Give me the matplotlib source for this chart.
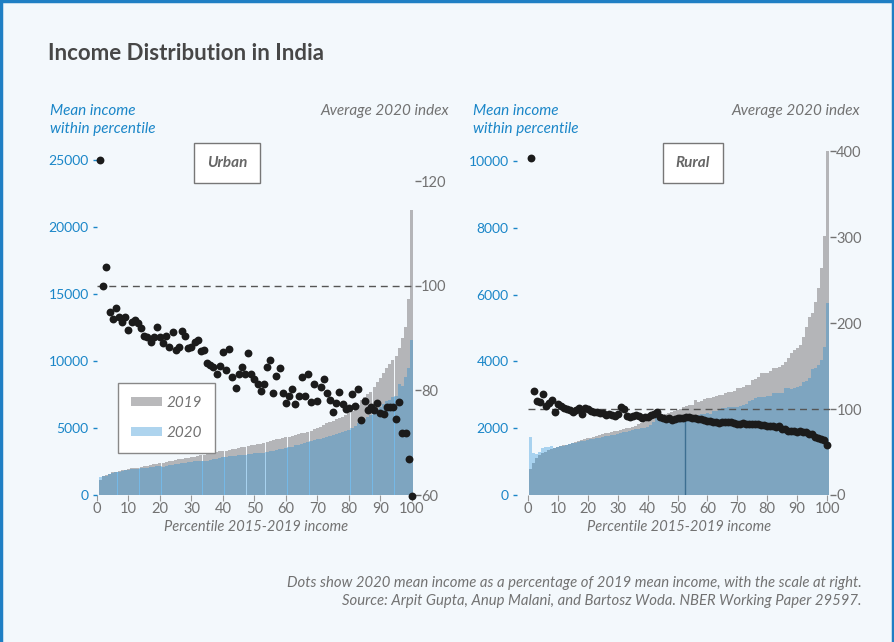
import numpy as np
import matplotlib
matplotlib.use("Agg")
import matplotlib.pyplot as plt
from matplotlib.patches import Patch
from matplotlib.lines import Line2D

# percentile 1..100
percentiles = np.arange(1, 101)

# Urban: mean income within percentile (bars, left axis)
urban_2019 = [
    1150, 1400, 1500, 1600, 1700, 1750, 1800, 1850, 1900, 1950,
    1980, 2010, 2050, 2110, 2150, 2200, 2250, 2300, 2340, 2380,
    2420, 2460, 2500, 2550, 2610, 2650, 2700, 2730, 2770, 2810,
    2850, 2900, 2950, 3000, 3060, 3100, 3150, 3200, 3250, 3280,
    3310, 3360, 3400, 3450, 3500, 3560, 3600, 3650, 3700, 3750,
    3780, 3800, 3850, 3950, 4000, 4100, 4150, 4200, 4250, 4300,
    4350, 4400, 4500, 4550, 4600, 4650, 4720, 4800, 4900, 5000,
    5100, 5200, 5350, 5450, 5550, 5650, 5750, 5850, 5950, 6100,
    6300, 6500, 6700, 7100, 7300, 7500, 7700, 8080, 8400, 8730,
    9100, 9470, 9800, 10070, 10370, 11000, 11700, 12560, 14600, 21260,
]
urban_2020 = [
    1370, 1400, 1450, 1550, 1620, 1680, 1740, 1800, 1870, 1890,
    1910, 1930, 1960, 1990, 2020, 2050, 2080, 2100, 2130, 2160,
    2100, 2190, 2220, 2250, 2290, 2330, 2370, 2410, 2450, 2490,
    2500, 2520, 2540, 2550, 2560, 2600, 2650, 2700, 2750, 2800,
    2860, 2880, 2900, 2930, 2950, 2980, 3020, 3050, 3080, 3110,
    3110, 3120, 3130, 3200, 3250, 3300, 3350, 3400, 3450, 3500,
    3550, 3600, 3700, 3750, 3800, 3850, 3980, 4050, 4100, 4150,
    4200, 4250, 4350, 4400, 4500, 4550, 4600, 4700, 4750, 4850,
    5000, 5150, 5350, 5500, 5650, 5840, 6000, 6200, 6400, 6590,
    6800, 7000, 7100, 7300, 7400, 8300, 8100, 8800, 9500, 11550,
]
# Urban: 2020 mean income as % of 2019 (dots, right axis)
urban_index = [
    124.0, 100.0, 103.5, 94.9, 93.7, 95.7, 94.1, 93.1, 94.1, 91.5,
    93.1, 93.4, 92.9, 92.0, 90.4, 90.1, 89.2, 90.1, 92.1, 90.1,
    89.1, 90.4, 88.2, 91.1, 87.8, 88.2, 91.3, 90.4, 88.0, 88.3,
    89.3, 89.6, 87.6, 87.7, 85.2, 84.8, 84.5, 83.1, 84.7, 87.4,
    83.9, 87.9, 82.5, 80.4, 83.2, 84.5, 83.2, 87.2, 83.2, 82.1,
    81.2, 79.9, 81.2, 84.5, 85.8, 79.4, 82.7, 84.2, 79.5, 77.6,
    79.0, 80.2, 77.4, 78.9, 82.6, 78.9, 83.1, 77.8, 81.2, 78.0,
    80.6, 82.1, 79.5, 78.1, 75.9, 77.5, 79.7, 77.4, 76.4, 76.6,
    79.3, 77.0, 80.2, 74.3, 78.0, 76.2, 76.9, 76.2, 77.6, 75.7,
    75.5, 76.9, 76.9, 76.9, 74.5, 77.8, 71.9, 71.9, 66.9, 59.8,
]

# Rural
rural_2019 = [
    780, 950, 1100, 1200, 1250, 1300, 1350, 1380, 1400, 1450,
    1470, 1490, 1510, 1540, 1570, 1600, 1620, 1650, 1670, 1700,
    1720, 1750, 1770, 1800, 1830, 1850, 1870, 1890, 1910, 1930,
    1950, 1970, 2000, 2020, 2050, 2080, 2120, 2160, 2200, 2250,
    2280, 2320, 2350, 2370, 2400, 2440, 2450, 2490, 2500, 2540,
    2560, 2640, 2650, 2690, 2700, 2850, 2790, 2800, 2860, 2890,
    2900, 2940, 2950, 2990, 3000, 3060, 3070, 3090, 3120, 3190,
    3200, 3230, 3290, 3300, 3440, 3480, 3520, 3640, 3650, 3660,
    3700, 3790, 3800, 3840, 3900, 3990, 4090, 4240, 4340, 4390,
    4490, 4740, 5040, 5340, 5440, 5790, 6190, 6790, 7760, 10310,
]
rural_2020 = [
    1750, 1250, 1220, 1300, 1400, 1450, 1450, 1480, 1420, 1450,
    1470, 1480, 1500, 1520, 1550, 1570, 1590, 1610, 1630, 1650,
    1670, 1690, 1700, 1720, 1750, 1760, 1780, 1790, 1810, 1830,
    1850, 1880, 1900, 1920, 1950, 1970, 1990, 2000, 2020, 2050,
    2100, 2200, 2350, 2300, 2250, 2250, 2270, 2280, 2290, 2300,
    2300, 2310, 2330, 2350, 2370, 2390, 2400, 2420, 2440, 2450,
    2420, 2500, 2520, 2550, 2590, 2600, 2620, 2640, 2640, 2640,
    2650, 2700, 2720, 2800, 2830, 2900, 2940, 2940, 2940, 2950,
    2950, 3040, 3050, 3040, 3050, 3190, 3200, 3180, 3200, 3240,
    3260, 3390, 3420, 3500, 3760, 3790, 3890, 4040, 4440, 5740,
]
rural_index = [
    392, 121, 109, 108, 117, 104, 107, 111, 97, 106,
    103, 101, 100, 99, 97, 99, 101, 94, 101, 100,
    98, 97, 96, 95, 95, 93, 94, 93, 92, 94,
    102, 100, 92, 91, 92, 93, 92, 90, 91, 91,
    93, 94, 97, 91, 89, 88, 89, 87, 88, 90,
    90, 90, 91, 91, 90, 89, 88, 88, 87, 86,
    86, 85, 85, 84, 85, 85, 85, 85, 84, 83,
    83, 84, 83, 83, 83, 82, 82, 81, 81, 80,
    80, 80, 79, 80, 77, 77, 74, 74, 74, 73,
    74, 73, 73, 71, 71, 68, 66, 65, 64, 58,
]
# thin vertical line seen in the rural panel
rural_rule_x = 52.5
rural_rule_top = 89

BG = "#f3f8fc"
GRAY_BAR = "#b4b5b8"
BLUE_BAR = "#0c84d4"
BLUE_TXT = "#1a86c8"
GRAY_TXT = "#727272"
FONT = "Lato"

plt.rcParams["font.family"] = [FONT, "DejaVu Sans"]

W, H = 894, 642
fig = plt.figure(figsize=(W / 100, H / 100), dpi=100, facecolor=BG)


def px_box(x0, y_top, x1, y_bot):
    return [x0 / W, 1 - y_bot / H, (x1 - x0) / W, (y_bot - y_top) / H]


def style_axes(ax, ax2, left_color, spine_gap):
    for a in (ax, ax2):
        for s in a.spines.values():
            s.set_visible(False)
        a.set_facecolor("none")
    ax.spines["left"].set_position(("outward", spine_gap))
    ax.tick_params(axis="y", colors=left_color, labelsize=10, length=3, width=1, pad=3)
    ax.tick_params(axis="x", colors=GRAY_TXT, labelsize=10.5, length=4, width=0.8, pad=1)
    ax.tick_params(axis="x", color="#999999")
    ax2.tick_params(axis="y", colors=GRAY_TXT, labelsize=10.5, length=4, width=1, pad=0.5)
    ax.set_xticks(range(0, 101, 10))
    ax.set_xlabel("Percentile 2015-2019 income", style="italic", color=GRAY_TXT,
                  fontsize=10.5, labelpad=3)


def draw_panel(rect, v19, v20, idx, ylim_l, ylim_r, yticks_l, yticks_r,
               gray_w, blue_w, spine_gap):
    ax = fig.add_axes(rect)
    ax.bar(percentiles, v19, width=gray_w, color=GRAY_BAR, linewidth=0)
    ax.bar(percentiles, v20, width=blue_w, color=BLUE_BAR, alpha=0.32, linewidth=0)
    ax.set_xlim(0, 101)
    ax.set_ylim(*ylim_l)
    ax.set_yticks(yticks_l)
    ax2 = ax.twinx()
    ax2.set_ylim(*ylim_r)
    ax2.set_yticks(yticks_r)
    ax2.axhline(100, color="#555555", lw=1, dashes=(5, 3.5), zorder=1)
    ax2.scatter(percentiles, idx, s=32, color="#1b1b1b", zorder=3, linewidths=0,
                clip_on=False)
    style_axes(ax, ax2, BLUE_TXT, spine_gap)
    return ax, ax2


# Urban panel
ax_u, ax_u2 = draw_panel(px_box(97, 147, 415, 495), urban_2019, urban_2020, urban_index,
                         (0, 25960), (60, 126.5), range(0, 25001, 5000), [60, 80, 100, 120],
                         0.96, 1.03, 0)
# Rural panel
ax_r, ax_r2 = draw_panel(px_box(528, 147, 830, 495), rural_2019, rural_2020, rural_index,
                         (0, 10419), (0, 404.7), range(0, 10001, 2000), range(0, 401, 100),
                         1.0, 1.0, 8)
ax_r2.plot([rural_rule_x, rural_rule_x], [0, rural_rule_top], color="#3d6f92", lw=1, zorder=2)

# panel name boxes
for ax, name, xf in ((ax_u2, "Urban", 0.409), (ax_r2, "Rural", 0.546)):
    ax.text(xf, 0.954, name, transform=ax.transAxes,
            ha="center", va="center", style="italic", weight="bold", color="#666666",
            fontsize=11,
            bbox=dict(boxstyle="square,pad=0.85", facecolor="white", edgecolor="#777777", lw=1))

# legend (urban)
handles = [Patch(facecolor="#b9b9bb", edgecolor="none", label="2019"),
           Patch(facecolor="#aed4ee", edgecolor="none", label="2020")]
leg = ax_u2.legend(handles=handles, loc="upper left",
                   bbox_to_anchor=(118 / W, 1 - 383 / H), bbox_transform=fig.transFigure,
                   frameon=True, fancybox=False, edgecolor="#888888", framealpha=1,
                   handlelength=2.0, handleheight=0.55, labelspacing=1.05,
                   borderpad=0.85, handletextpad=0.3, fontsize=11, borderaxespad=0)
for t in leg.get_texts():
    t.set_color(GRAY_TXT)
    t.set_style("italic")
leg.get_frame().set_linewidth(1)


def ftext(x, y, s, **kw):
    fig.text(x / W, 1 - y / H, s, **kw)


# headers
ftext(48, 53, "Income Distribution in India", fontsize=16, weight="bold",
      color="#474747", va="center")
for x0, x1 in ((50, 449), (473, 860)):
    ftext(x0, 111, "Mean income", color=BLUE_TXT, style="italic", fontsize=11, va="center")
    ftext(x0, 129, "within percentile", color=BLUE_TXT, style="italic", fontsize=11, va="center")
    ftext(x1, 111, "Average 2020 index", color=GRAY_TXT, style="italic", fontsize=11,
          va="center", ha="right")

ftext(862, 583, "Dots show 2020 mean income as a percentage of 2019 mean income, with the scale at right.",
      color=GRAY_TXT, style="italic", fontsize=10.7, va="center", ha="right")
ftext(862, 601, "Source: Arpit Gupta, Anup Malani, and Bartosz Woda. NBER Working Paper 29597.",
      color=GRAY_TXT, style="italic", fontsize=10.7, va="center", ha="right")

# outer frame (top, left, right)
frame_c = "#1f7fc4"
for xs, ys in (([0, 1], [0.998, 0.998]), ([0.0015, 0.0015], [0, 1]), ([0.9985, 0.9985], [0, 1])):
    fig.add_artist(Line2D(xs, ys, transform=fig.transFigure, color=frame_c, lw=2.5))

fig.savefig("out.png", dpi=100, facecolor=BG)
